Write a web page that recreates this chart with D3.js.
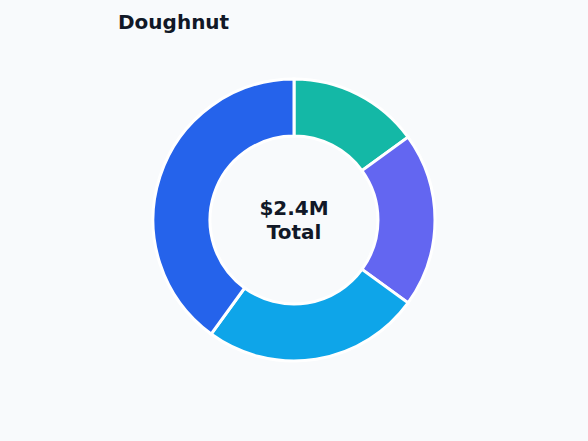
<!DOCTYPE html>
<html><head><meta charset="utf-8">
<script src="https://cdn.jsdelivr.net/npm/d3@7"></script>
<style>body{margin:0;background:#f8fafc;font-family:"DejaVu Sans",sans-serif}</style>
</head><body><svg id="c" width="588" height="441"></svg>
<script>
const categories = ["A","B","C","D"];
const values = [15,20,25,40];
const colors = ["#14b8a6","#6366f1","#0ea5e9","#2563eb"];
const centerLabels = ["$2.4M","Total"];

const svg = d3.select("#c");
svg.append("rect").attr("width",588).attr("height",441).attr("fill","#f8fafc");
svg.append("text").attr("x",118).attr("y",29).attr("font-size",20).attr("font-weight","bold")
  .attr("fill","#111827").text("Doughnut");
const g = svg.append("g").attr("transform","translate(294,220)");
const pie = d3.pie().sort(null).value(d=>d)(values);
const arc = d3.arc().innerRadius(84).outerRadius(141);
g.selectAll("path").data(pie).join("path").attr("d",arc)
  .attr("fill",(d,i)=>colors[i]).attr("stroke","#ffffff").attr("stroke-width",3);
g.selectAll("text.c").data(centerLabels).join("text").attr("class","c")
  .attr("text-anchor","middle").attr("y",(d,i)=>i*24-5)
  .attr("font-size",20).attr("font-weight","bold").attr("fill","#111827").text(d=>d);
</script></body></html>
